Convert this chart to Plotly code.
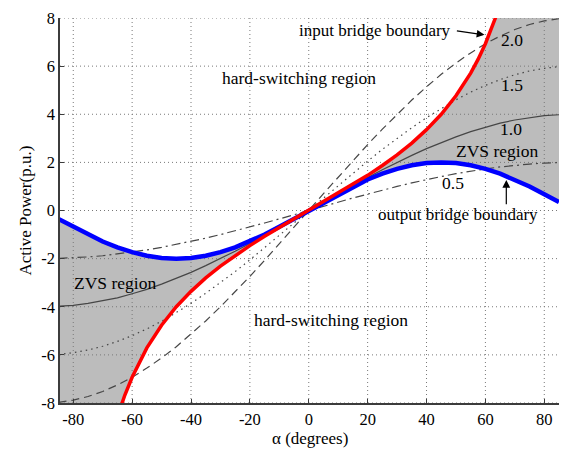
import plotly.graph_objects as go

# ---------------- data ----------------
alpha = [-85, -80, -75, -70, -65, -60, -55, -50, -45, -40, -35, -30, -25, -20, -15, -10, -5,
         0, 5, 10, 15, 20, 25, 30, 35, 40, 45, 50, 55, 60, 65, 70, 75, 80, 85]

k_05 = [-1.99, -1.97, -1.93, -1.88, -1.81, -1.73, -1.64, -1.53, -1.41, -1.29, -1.15, -1.0, -0.85, -0.68, -0.52, -0.35, -0.17,
        0, 0.17, 0.35, 0.52, 0.68, 0.85, 1.0, 1.15, 1.29, 1.41, 1.53, 1.64, 1.73, 1.81, 1.88, 1.93, 1.97, 1.99]
k_10 = [-3.98, -3.94, -3.86, -3.76, -3.63, -3.46, -3.28, -3.06, -2.83, -2.57, -2.29, -2.0, -1.69, -1.37, -1.04, -0.69, -0.35,
        0, 0.35, 0.69, 1.04, 1.37, 1.69, 2.0, 2.29, 2.57, 2.83, 3.06, 3.28, 3.46, 3.63, 3.76, 3.86, 3.94, 3.98]
k_15 = [-5.98, -5.91, -5.80, -5.64, -5.44, -5.20, -4.92, -4.60, -4.24, -3.86, -3.44, -3.0, -2.54, -2.05, -1.55, -1.04, -0.52,
        0, 0.52, 1.04, 1.55, 2.05, 2.54, 3.0, 3.44, 3.86, 4.24, 4.60, 4.92, 5.20, 5.44, 5.64, 5.80, 5.91, 5.98]
k_20 = [-7.97, -7.88, -7.73, -7.52, -7.25, -6.93, -6.55, -6.13, -5.66, -5.14, -4.59, -4.0, -3.38, -2.74, -2.07, -1.39, -0.70,
        0, 0.70, 1.39, 2.07, 2.74, 3.38, 4.0, 4.59, 5.14, 5.66, 6.13, 6.55, 6.93, 7.25, 7.52, 7.73, 7.88, 7.97]

# output bridge boundary (blue)
output_boundary = [-0.35, -0.68, -1.0, -1.29, -1.53, -1.73, -1.88, -1.97, -2.0, -1.97, -1.88, -1.73, -1.53, -1.29, -1.0, -0.68, -0.35,
                   0, 0.35, 0.68, 1.0, 1.29, 1.53, 1.73, 1.88, 1.97, 2.0, 1.97, 1.88, 1.73, 1.53, 1.29, 1.0, 0.68, 0.35]

# input bridge boundary (red)
alpha_in = [-65, -63.4, -62.5, -60, -57.5, -55, -50, -45, -40, -35, -30, -25, -20, -15, -10, -5,
            0, 5, 10, 15, 20, 25, 30, 35, 40, 45, 50, 55, 57.5, 60, 62.5, 63.4, 65]
input_boundary = [-8.58, -8.0, -7.68, -6.93, -6.28, -5.71, -4.77, -4.0, -3.36, -2.80, -2.31, -1.87, -1.46, -1.07, -0.71, -0.35,
                  0, 0.35, 0.71, 1.07, 1.46, 1.87, 2.31, 2.80, 3.36, 4.0, 4.77, 5.71, 6.28, 6.93, 7.68, 8.0, 8.58]

x_ticks = [-80, -60, -40, -20, 0, 20, 40, 60, 80]
x_ticktext = ["-80", "-60", "-40", "-20", "0", "20", "40", "60", "80"]
y_ticks = [-8, -6, -4, -2, 0, 2, 4, 6, 8]
y_ticktext = ["-8", "-6", "-4", "-2", "0", "2", "4", "6", "8"]

X_RANGE = [-84.5, 85]
Y_RANGE = [-8, 8]

FONT = "Liberation Serif, Times New Roman, serif"
GRAY_FILL = "rgb(188,188,188)"
CURVE = "rgb(70,70,70)"

fig = go.Figure()

# ---------------- ZVS shaded regions ----------------
up_x = [a for a, p in zip(alpha_in, input_boundary) if a >= 0 and p <= Y_RANGE[1]]
up_y = [p for a, p in zip(alpha_in, input_boundary) if a >= 0 and p <= Y_RANGE[1]]
lo_x = [a for a in alpha if a >= 0]
lo_y = [p for a, p in zip(alpha, output_boundary) if a >= 0]
rx = up_x + [alpha[-1]] + lo_x[::-1]
ry = up_y + [Y_RANGE[1]] + lo_y[::-1]
fig.add_trace(go.Scatter(x=rx, y=ry, mode="lines", fill="toself", fillcolor=GRAY_FILL,
                         line=dict(width=0, color=GRAY_FILL), hoverinfo="skip", showlegend=False))

l_up_x = [a for a in alpha if a <= 0]
l_up_y = [p for a, p in zip(alpha, output_boundary) if a <= 0]
l_lo_x = [a for a, p in zip(alpha_in, input_boundary) if a <= 0 and p >= Y_RANGE[0]]
l_lo_y = [p for a, p in zip(alpha_in, input_boundary) if a <= 0 and p >= Y_RANGE[0]]
lx = [alpha[0]] + l_lo_x + l_up_x[::-1]
ly = [Y_RANGE[0]] + l_lo_y + l_up_y[::-1]
fig.add_trace(go.Scatter(x=lx, y=ly, mode="lines", fill="toself", fillcolor=GRAY_FILL,
                         line=dict(width=0, color=GRAY_FILL), hoverinfo="skip", showlegend=False))

# ---------------- dotted grid (drawn above the shading) ----------------
gx, gy = [], []
for t in x_ticks:
    gx += [t, t, None]
    gy += [Y_RANGE[0], Y_RANGE[1], None]
for t in y_ticks:
    gx += [X_RANGE[0], X_RANGE[1], None]
    gy += [t, t, None]
fig.add_trace(go.Scatter(x=gx, y=gy, mode="lines", line=dict(color="rgb(120,120,120)", width=1, dash="1px,3px"),
                         hoverinfo="skip", showlegend=False))

# ---------------- k curves ----------------
fig.add_trace(go.Scatter(x=alpha, y=k_20, mode="lines", line=dict(color=CURVE, width=1.2, dash="8px,5px"), showlegend=False))
fig.add_trace(go.Scatter(x=alpha, y=k_15, mode="lines", line=dict(color=CURVE, width=1.2, dash="1.5px,4px"), showlegend=False))
fig.add_trace(go.Scatter(x=alpha, y=k_10, mode="lines", line=dict(color=CURVE, width=1.2), showlegend=False))
fig.add_trace(go.Scatter(x=alpha, y=k_05, mode="lines", line=dict(color=CURVE, width=1.2, dash="9px,4px,2px,4px"), showlegend=False))

# ---------------- boundaries ----------------
fig.add_trace(go.Scatter(x=alpha, y=output_boundary, mode="lines", line=dict(color="rgb(0,0,255)", width=4.5), showlegend=False))
fig.add_trace(go.Scatter(x=alpha_in, y=input_boundary, mode="lines", line=dict(color="rgb(255,0,0)", width=3.5), showlegend=False))

# ---------------- annotations ----------------
def txt(x, y, s, size=17, **kw):
    fig.add_annotation(x=x, y=y, text=s, showarrow=False, font=dict(family=FONT, size=size, color="black"), **kw)

txt(-3.2, 5.5, "hard-switching region", 17.5)
txt(7.5, -4.53, "hard-switching region", 17.5)
txt(-65.8, -3.02, "ZVS region", 17.5)
txt(63.8, 2.49, "ZVS region", 17.5)
txt(69, 7.1, "2.0", 17.5)
txt(69, 5.2, "1.5", 17.5)
txt(68.8, 3.38, "1.0", 17.5)
txt(48.9, 1.13, "0.5", 17.5)
txt(22.4, 7.47, "input bridge boundary", 17)
txt(50.8, -0.16, "output bridge boundary", 17)

# arrows
fig.add_annotation(x=59.7, y=7.3, ax=49.8, ay=7.47, xref="x", yref="y", axref="x", ayref="y", text="",
                   showarrow=True, arrowhead=2, arrowsize=1.3, arrowwidth=1.2, arrowcolor="black")
fig.add_annotation(x=67.1, y=1.27, ax=67.1, ay=0.2, xref="x", yref="y", axref="x", ayref="y", text="",
                   showarrow=True, arrowhead=2, arrowsize=1.3, arrowwidth=1.2, arrowcolor="black")

# axis titles
fig.add_annotation(xref="paper", yref="paper", x=0, y=0.5, xshift=-35, text="Active Power(p.u.)", textangle=-90,
                   showarrow=False, font=dict(family=FONT, size=17, color="black"), xanchor="center", yanchor="middle")
fig.add_annotation(xref="paper", yref="paper", x=0.5, y=0, yshift=-35, text="α (degrees)",
                   showarrow=False, font=dict(family=FONT, size=17, color="black"), xanchor="center", yanchor="middle")

axis_common = dict(showgrid=False, zeroline=False, showline=True, linecolor="rgb(60,60,60)", linewidth=1.5,
                   ticks="inside", ticklen=4, tickcolor="rgb(60,60,60)",
                   tickfont=dict(family=FONT, size=16.5, color="black"))
fig.update_xaxes(range=X_RANGE, tickvals=x_ticks, ticktext=x_ticktext, **axis_common)
fig.update_yaxes(range=Y_RANGE, tickvals=y_ticks, ticktext=y_ticktext, **axis_common)

fig.update_layout(width=568, height=452, margin=dict(l=60, r=9, t=10, b=49),
                  plot_bgcolor="white", paper_bgcolor="white", showlegend=False)

fig.write_html("out.html")
